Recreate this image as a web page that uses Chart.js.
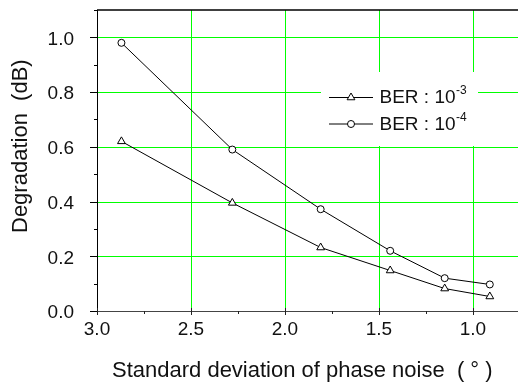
<!DOCTYPE html>
<html>
<head>
<meta charset="utf-8">
<script src="https://cdn.jsdelivr.net/npm/chart.js@4/dist/chart.umd.min.js"></script>
<style>
html,body{margin:0;padding:0;background:#fff;}
</style>
</head>
<body>
<canvas id="graph_phase" width="518" height="387"></canvas>
<script>
// data
const phaseNoise = [2.87, 2.28, 1.81, 1.44, 1.15, 0.91];
const ber3 = [0.62, 0.395, 0.232, 0.148, 0.082, 0.053];
const ber4 = [0.98, 0.59, 0.372, 0.22, 0.12, 0.097];
const seriesNames = ['BER : 10', 'BER : 10'];
const seriesExp = ['-3', '-4'];
const xTicks = [3.0, 2.75, 2.5, 2.25, 2.0, 1.75, 1.5, 1.25, 1.0, 0.75];
const xMajor = [3.0, 2.5, 2.0, 1.5, 1.0];
const yTicks = [0, 0.1, 0.2, 0.3, 0.4, 0.5, 0.6, 0.7, 0.8, 0.9, 1.0, 1.1];
const yMajor = [0, 0.2, 0.4, 0.6, 0.8, 1.0];
const xTitle = 'Standard deviation of phase noise  ( \u00b0 )';
const yTitle = 'Degradation  (dB)';

const FONT = 'Arial, "Liberation Sans", sans-serif';
const GREEN = '#00ff00';

function isMajor(list, v) {
    return list.some(m => Math.abs(m - v) < 1e-6);
}

let ctx = document.getElementById('graph_phase').getContext('2d');

// grid, axes, ticks, titles and the legend box are drawn here
const decorPlugin = {
    id: 'decor',
    beforeDatasetsDraw(chart) {
        const c = chart.ctx;
        const area = chart.chartArea;
        const xs = chart.scales.x, ys = chart.scales.y;
        c.save();
        c.strokeStyle = GREEN;
        c.lineWidth = 1;
        xMajor.forEach(v => {
            if (v > 2.99) return;
            const px = Math.round(xs.getPixelForValue(v)) + 0.5;
            c.beginPath();
            c.moveTo(px, area.top);
            c.lineTo(px, area.bottom);
            c.stroke();
        });
        yMajor.forEach(v => {
            if (v < 0.01) return;
            const py = Math.round(ys.getPixelForValue(v)) + 0.5;
            c.beginPath();
            c.moveTo(area.left, py);
            c.lineTo(area.right, py);
            c.stroke();
        });
        c.restore();
    },
    afterDatasetsDraw(chart) {
        const c = chart.ctx;
        // legend box on top of grid
        const lx = 321, ly = 72, lw = 157, lh = 74;
        c.save();
        c.fillStyle = '#ffffff';
        c.fillRect(lx, ly, lw, lh);
        const rows = [97.5, 124];
        c.strokeStyle = '#000';
        c.lineWidth = 1;
        for (let i = 0; i < 2; i++) {
            const yy = rows[i];
            c.beginPath();
            c.moveTo(329, yy);
            c.lineTo(373, yy);
            c.stroke();
            c.fillStyle = '#fff';
            c.beginPath();
            if (i === 0) {
                const r = 4.5;
                for (let k = 0; k < 3; k++) {
                    const a = k * 2 * Math.PI / 3;
                    const px = 351 + Math.sin(a) * r, py = yy - Math.cos(a) * r;
                    if (k === 0) c.moveTo(px, py); else c.lineTo(px, py);
                }
                c.closePath();
            } else {
                c.arc(351, yy, 3.5, 0, Math.PI * 2);
            }
            c.fill();
            c.stroke();
            c.fillStyle = '#111';
            c.font = '19px ' + FONT;
            c.textAlign = 'left';
            c.textBaseline = 'alphabetic';
            c.fillText(seriesNames[i], 379.5, yy + 5.5);
            const w = c.measureText(seriesNames[i]).width;
            c.font = '12px ' + FONT;
            c.fillText(seriesExp[i], 379.5 + w + 0.5, yy - 3.5);
        }
        c.restore();
    },
    afterDraw(chart) {
        const c = chart.ctx;
        const area = chart.chartArea;
        const xs = chart.scales.x, ys = chart.scales.y;
        c.save();
        // top border
        c.strokeStyle = '#000';
        c.lineWidth = 1.5;
        c.beginPath();
        c.moveTo(area.left, area.top);
        c.lineTo(area.right, area.top);
        c.stroke();
        // left axis
        c.lineWidth = 1;
        c.beginPath();
        c.moveTo(area.left + 0.5, area.top);
        c.lineTo(area.left + 0.5, area.bottom);
        c.stroke();
        // bottom axis
        c.strokeStyle = '#444';
        c.beginPath();
        c.moveTo(area.left, Math.round(area.bottom) + 0.5);
        c.lineTo(area.right, Math.round(area.bottom) + 0.5);
        c.stroke();
        // y ticks (outside)
        c.strokeStyle = '#000';
        yTicks.forEach(v => {
            const py = Math.round(ys.getPixelForValue(v)) + 0.5;
            const len = isMajor(yMajor, v) ? 7 : 3;
            c.beginPath();
            c.moveTo(area.left - len, py);
            c.lineTo(area.left, py);
            c.stroke();
        });
        // x ticks
        c.strokeStyle = '#222';
        xTicks.forEach(v => {
            const px = Math.round(xs.getPixelForValue(v)) + 0.5;
            c.beginPath();
            if (isMajor(xMajor, v)) {
                c.moveTo(px, area.bottom - 3);
                c.lineTo(px, area.bottom + 4);
            } else {
                c.moveTo(px, area.bottom);
                c.lineTo(px, area.bottom + 3);
            }
            c.stroke();
        });
        // axis titles
        c.fillStyle = '#111';
        c.font = '22px ' + FONT;
        c.textAlign = 'left';
        c.textBaseline = 'alphabetic';
        c.fillText(xTitle, 112, 377);
        c.translate(27, 233);
        c.rotate(-Math.PI / 2);
        c.fillText(yTitle, 0, 0);
        c.restore();
    }
};

let myChart = new Chart(ctx, {
    type: 'line',
    data: {
        datasets: [
            {
                label: seriesNames[0] + seriesExp[0],
                data: phaseNoise.map((x, i) => ({x: x, y: ber3[i]})),
                borderColor: '#000',
                borderWidth: 1,
                pointStyle: 'triangle',
                pointRadius: 4.5,
                pointBackgroundColor: '#fff',
                pointBorderColor: '#000',
                pointBorderWidth: 1
            },
            {
                label: seriesNames[1] + seriesExp[1],
                data: phaseNoise.map((x, i) => ({x: x, y: ber4[i]})),
                borderColor: '#000',
                borderWidth: 1,
                pointStyle: 'circle',
                pointRadius: 3.5,
                pointBackgroundColor: '#fff',
                pointBorderColor: '#000',
                pointBorderWidth: 1
            }
        ]
    },
    options: {
        responsive: false,
        animation: false,
        layout: {
            autoPadding: false,
            padding: {left: 0, right: 0, top: 10, bottom: 0}
        },
        scales: {
            x: {
                type: 'linear',
                reverse: true,
                min: 0.76,
                max: 3.0,
                afterBuildTicks: (scale) => {
                    scale.ticks = xTicks.map(v => ({value: v}));
                },
                afterFit: (scale) => {
                    scale.height = 76;
                    scale.paddingLeft = 0;
                    scale.paddingRight = 0;
                },
                ticks: {
                    padding: 0,
                    autoSkip: false,
                    maxRotation: 0,
                    color: '#111',
                    font: {family: FONT, size: 19, lineHeight: 1.94},
                    callback: (v) => isMajor(xMajor, v) ? v.toFixed(1) : ''
                },
                grid: {display: false, drawTicks: false},
                border: {display: false}
            },
            y: {
                min: 0,
                max: 1.1,
                afterBuildTicks: (scale) => {
                    scale.ticks = yTicks.map(v => ({value: v}));
                },
                afterFit: (scale) => {
                    scale.width = 97;
                    scale.paddingTop = 0;
                    scale.paddingBottom = 0;
                },
                ticks: {
                    padding: 23,
                    labelOffset: 2,
                    autoSkip: false,
                    color: '#111',
                    font: {family: FONT, size: 19},
                    callback: (v) => isMajor(yMajor, v) ? v.toFixed(1) : ''
                },
                grid: {display: false, drawTicks: false},
                border: {display: false}
            }
        },
        plugins: {
            legend: {display: false},
            tooltip: {enabled: false}
        }
    },
    plugins: [decorPlugin]
});
</script>
</body>
</html>
